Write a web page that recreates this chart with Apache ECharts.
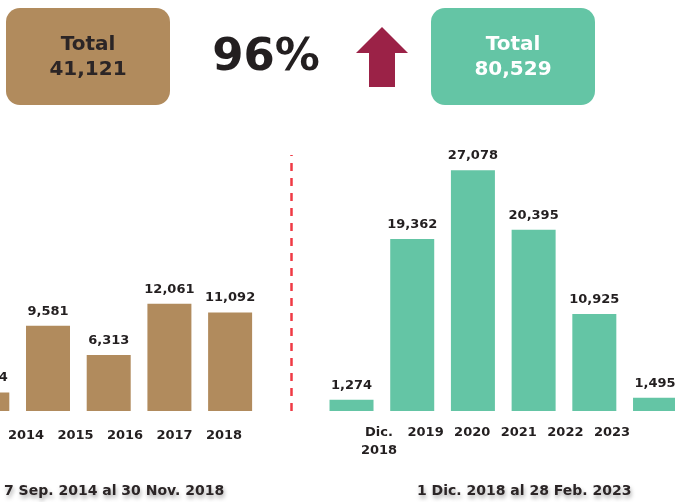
<!DOCTYPE html>
<html>
<head>
<meta charset="utf-8">
<script src="https://cdn.jsdelivr.net/npm/echarts@6/dist/echarts.min.js"></script>
<style>html,body{margin:0;padding:0;background:#fff}#c{width:675px;height:502px}</style>
</head>
<body>
<div id="c"></div>
<script>
// Data
const barCategories = ['2014','2015','2016','2017','2018','gap','Dic. 2018','2019','2020','2021','2022','2023'];
const beforeValues = [2074, 9581, 6313, 12061, 11092, null, null, null, null, null, null, null];
const afterValues  = [null, null, null, null, null, null, 1274, 19362, 27078, 20395, 10925, 1495];
const leftTickLabels = ['2014','2015','2016','2017','2018'];
const rightTickLabels = ['Dic.\n2018','2019','2020','2021','2022','2023'];
const totalBefore = '41,121';
const totalAfter = '80,529';
const growthText = '96%';
const leftSubtitle = '7 Sep. 2014 al 30 Nov. 2018';
const rightSubtitle = '1 Dic. 2018 al 28 Feb. 2023';

const FONT = 'DejaVu Sans';
const DARK = '#231f20';
const BROWN = '#b18b5d';
const GREEN = '#64c5a5';

const chart = echarts.init(document.getElementById('c'), null, {renderer: 'canvas'});
const fmt = p => (p.value == null || p.value[1] == null) ? '' : p.value[1].toLocaleString('en-US');
const toPairs = arr => arr.map((v, i) => (v == null ? null : [i, v])).filter(d => d !== null);
const gapIndex = barCategories.indexOf('gap');

const subStyle = {fontFamily: FONT, fontWeight: 'bold', fontSize: 14, color: '#2b2526',
  textShadowColor: 'rgba(0,0,0,0.35)', textShadowBlur: 4, textShadowOffsetX: 1, textShadowOffsetY: 3};

const option = {
  animation: false,
  backgroundColor: '#ffffff',
  title: [
    {text: leftSubtitle, left: -1, top: 479, textStyle: subStyle},
    {text: rightSubtitle, left: 412, top: 479, textStyle: subStyle}
  ],
  grid: [
    {left: 0, right: 0, top: 155, bottom: 91, containLabel: false},
    {left: 1.25, width: 247.5, top: 155, bottom: 91, containLabel: false},
    {left: 355.7, width: 279.6, top: 155, bottom: 91, containLabel: false}
  ],
  xAxis: [
    {type: 'value', gridIndex: 0, min: 0.2092, max: 11.329, show: false, splitLine: {show: false}},
    {type: 'category', gridIndex: 1, data: leftTickLabels, axisLine: {show: false}, axisTick: {show: false},
      axisLabel: {interval: 0, fontFamily: FONT, fontWeight: 'bold', fontSize: 13, color: DARK, margin: 18}},
    {type: 'category', gridIndex: 2, data: rightTickLabels, axisLine: {show: false}, axisTick: {show: false},
      axisLabel: {interval: 0, fontFamily: FONT, fontWeight: 'bold', fontSize: 13, color: DARK, margin: 13, lineHeight: 18}}
  ],
  yAxis: [
    {type: 'value', gridIndex: 0, min: 0, max: 28800, show: false},
    {type: 'value', gridIndex: 1, min: 0, max: 1, show: false},
    {type: 'value', gridIndex: 2, min: 0, max: 1, show: false}
  ],
  series: [
    {type: 'bar', xAxisIndex: 0, yAxisIndex: 0, data: toPairs(beforeValues), barWidth: 44, barGap: '-100%', clip: false,
      itemStyle: {color: BROWN},
      label: {show: true, position: 'top', distance: 8, formatter: fmt, fontFamily: FONT, fontWeight: 'bold', fontSize: 13, color: DARK},
      markLine: {symbol: 'none', silent: true, label: {show: false},
        lineStyle: {color: '#ef3b45', type: [8, 7], width: 2.5, opacity: 1},
        emphasis: {disabled: true},
        data: [{xAxis: gapIndex}]}
    },
    {type: 'bar', xAxisIndex: 0, yAxisIndex: 0, data: toPairs(afterValues), barWidth: 44, barGap: '-100%', clip: false,
      itemStyle: {color: GREEN},
      label: {show: true, position: 'top', distance: 8, formatter: fmt, fontFamily: FONT, fontWeight: 'bold', fontSize: 13, color: DARK}
    }
  ],
  graphic: [
    {type: 'rect', shape: {x: 6, y: 8, width: 164, height: 97, r: 14}, style: {fill: BROWN}},
    {type: 'text', style: {text: 'Total\n' + totalBefore, x: 88, y: 57, align: 'center', verticalAlign: 'middle',
      font: 'bold 20px "DejaVu Sans"', lineHeight: 25, fill: '#2b2526'}},
    {type: 'rect', shape: {x: 431, y: 8, width: 164, height: 97, r: 14}, style: {fill: GREEN}},
    {type: 'text', style: {text: 'Total\n' + totalAfter, x: 513, y: 57, align: 'center', verticalAlign: 'middle',
      font: 'bold 20px "DejaVu Sans"', lineHeight: 25, fill: '#ffffff'}},
    {type: 'text', style: {text: growthText, x: 266, y: 58, align: 'center', verticalAlign: 'middle',
      font: 'bold 45px "DejaVu Sans"', fill: DARK}},
    {type: 'polygon', shape: {points: [[382, 27], [408, 53], [395, 53], [395, 87], [369, 87], [369, 53], [356, 53]]}, style: {fill: '#9b2247'}}
  ]
};
chart.setOption(option);
</script>
</body>
</html>
